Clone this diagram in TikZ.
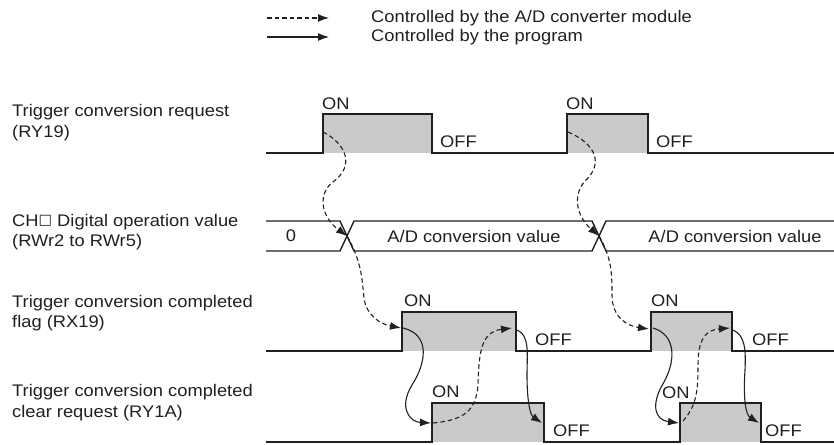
\documentclass[tikz,border=0pt]{standalone}
\usepackage{fontspec}
\setmainfont{Liberation Sans}[FakeStretch=1.09]
\newfontfamily\boxglyphfont{DejaVu Sans}[Scale=0.85]
\usetikzlibrary{arrows.meta}
\definecolor{ink}{RGB}{35,31,32}
\definecolor{pulsefill}{RGB}{201,202,204}
\tikzset{
  wave/.style={draw=ink,line width=1.4pt,line join=miter},
  pulse/.style={fill=pulsefill,draw=none},
  auto arrow/.style={draw=ink,line width=1.1pt,dash pattern=on 4.5pt off 3pt,-{Latex[length=11pt,width=8pt]}},
  prog arrow/.style={draw=ink,line width=1.1pt,-{Latex[length=11pt,width=8pt]}},
  sig label/.style={anchor=west,align=left,inner sep=0pt,text=ink,font=\fontsize{16.8}{20.5}\selectfont},
  lvl/.style={anchor=west,inner sep=0pt,text=ink,font=\fontsize{16.8}{18}\selectfont},
  bus text/.style={inner sep=0pt,text=ink,font=\fontsize{16.8}{18}\selectfont},
}
\begin{document}
\begin{tikzpicture}[x=1pt,y=-1pt]
\useasboundingbox (0,0) rectangle (834,444);

% ---------- legend ----------
\coordinate (lg1a) at (267,18);  \coordinate (lg1b) at (329,18);
\coordinate (lg2a) at (267,37);  \coordinate (lg2b) at (329,37);
\draw[auto arrow] (lg1a) -- (lg1b);
\draw[prog arrow] (lg2a) -- (lg2b);
\node[lvl] (lgt1) at (371,18) {Controlled by the A/D converter module};
\node[lvl] (lgt2) at (371,37) {Controlled by the program};

% ---------- signal names ----------
\node[sig label] (n1) at (12,122.5) {Trigger conversion request\\(RY19)};
\node[sig label] (n2) at (12,232) {CH\raisebox{1.6pt}{\boxglyphfont\char"25A1} Digital operation value\\(RWr2 to RWr5)};
\node[sig label] (n3) at (12,313) {Trigger conversion completed\\flag (RX19)};
\node[sig label] (n4) at (12,402.5) {Trigger conversion completed\\clear request (RY1A)};

% ---------- RY19 ----------
\fill[pulse] (323,114) rectangle (432,153);
\fill[pulse] (567,114) rectangle (648,153);
\draw[wave] (266,153) -- (323,153) -- (323,114) -- (432,114) -- (432,153)
  -- (567,153) -- (567,114) -- (648,114) -- (648,153) -- (834,153);
\node[lvl] (on1a) at (322,104) {ON};
\node[lvl] (off1a) at (440,142) {OFF};
\node[lvl] (on1b) at (566,104) {ON};
\node[lvl] (off1b) at (656,142) {OFF};

% ---------- RWr2 to RWr5 ----------
\draw[wave] (266,221) -- (340,221) -- (354,251) -- (592,251) -- (606,221) -- (834,221);
\draw[wave] (266,251) -- (340,251) -- (354,221) -- (592,221) -- (606,251) -- (834,251);
\coordinate (x1) at (347,236);
\coordinate (x2) at (599,236);
\node[bus text] (v0) at (291,236) {0};
\node[bus text] (v1) at (474,236) {A/D conversion value};
\node[bus text] (v2) at (735,236) {A/D conversion value};

% ---------- RX19 ----------
\fill[pulse] (402,312) rectangle (516,351);
\fill[pulse] (651,312) rectangle (732,351);
\draw[wave] (266,351) -- (402,351) -- (402,312) -- (516,312) -- (516,351)
  -- (651,351) -- (651,312) -- (732,312) -- (732,351) -- (834,351);
\node[lvl] (on3a) at (404,301) {ON};
\node[lvl] (off3a) at (535,340) {OFF};
\node[lvl] (on3b) at (651,301) {ON};
\node[lvl] (off3b) at (752,340) {OFF};

% ---------- RY1A ----------
\fill[pulse] (432,403) rectangle (544,442);
\fill[pulse] (680,403) rectangle (761,442);
\draw[wave] (266,442) -- (432,442) -- (432,403) -- (544,403) -- (544,442)
  -- (680,442) -- (680,403) -- (761,403) -- (761,442) -- (834,442);
\node[lvl] (on4a) at (432,392) {ON};
\node[lvl] (off4a) at (553,431) {OFF};
\node[lvl] (on4b) at (662,393) {ON};
\node[lvl] (off4b) at (765,431) {OFF};

% ---------- causal arrows, first cycle ----------
\coordinate (a1s) at (323,132);
\coordinate (a2e) at (401,328);
\coordinate (s1s) at (403,328);
\coordinate (s1e) at (431,423);
\coordinate (d3s) at (433,423);
\coordinate (d3e) at (512,328);
\coordinate (s2s) at (517,330);
\coordinate (s2e) at (542,423);
\draw[auto arrow] (a1s) .. controls (345,143) and (356,165) .. (333,182)
  .. controls (318,193) and (320,216) .. (x1);
\draw[auto arrow] (x1) .. controls (362,262) and (362,280) .. (364,298)
  .. controls (366,315) and (380,324) .. (a2e);
\draw[prog arrow] (s1s) .. controls (432,335) and (425,365) .. (412,385)
  .. controls (398,408) and (410,422) .. (s1e);
\draw[auto arrow] (d3s) .. controls (465,420) and (476,410) .. (478,385)
  .. controls (479,355) and (480,332) .. (d3e);
\draw[prog arrow] (s2s) .. controls (530,335) and (527,355) .. (527,375)
  .. controls (527,400) and (530,415) .. (s2e);

% ---------- causal arrows, second cycle ----------
\coordinate (a4s) at (568,132);
\coordinate (a5e) at (649,329);
\coordinate (s3s) at (653,328);
\coordinate (s3e) at (679,423);
\coordinate (d6s) at (683,421);
\coordinate (d6e) at (730,328);
\coordinate (s4s) at (733,330);
\coordinate (s4e) at (759,423);
\draw[auto arrow] (a4s) .. controls (592,142) and (604,160) .. (588,178)
  .. controls (572,192) and (575,215) .. (x2);
\draw[auto arrow] (x2) .. controls (612,258) and (612,275) .. (612,295)
  .. controls (612,318) and (628,326) .. (a5e);
\draw[prog arrow] (s3s) .. controls (676,335) and (676,360) .. (664,382)
  .. controls (650,405) and (655,420) .. (s3e);
\draw[auto arrow] (d6s) .. controls (697,405) and (698,390) .. (698,365)
  .. controls (698,340) and (705,330) .. (d6e);
\draw[prog arrow] (s4s) .. controls (745,335) and (746,350) .. (745,370)
  .. controls (743,400) and (746,415) .. (s4e);
\end{tikzpicture}
\end{document}
